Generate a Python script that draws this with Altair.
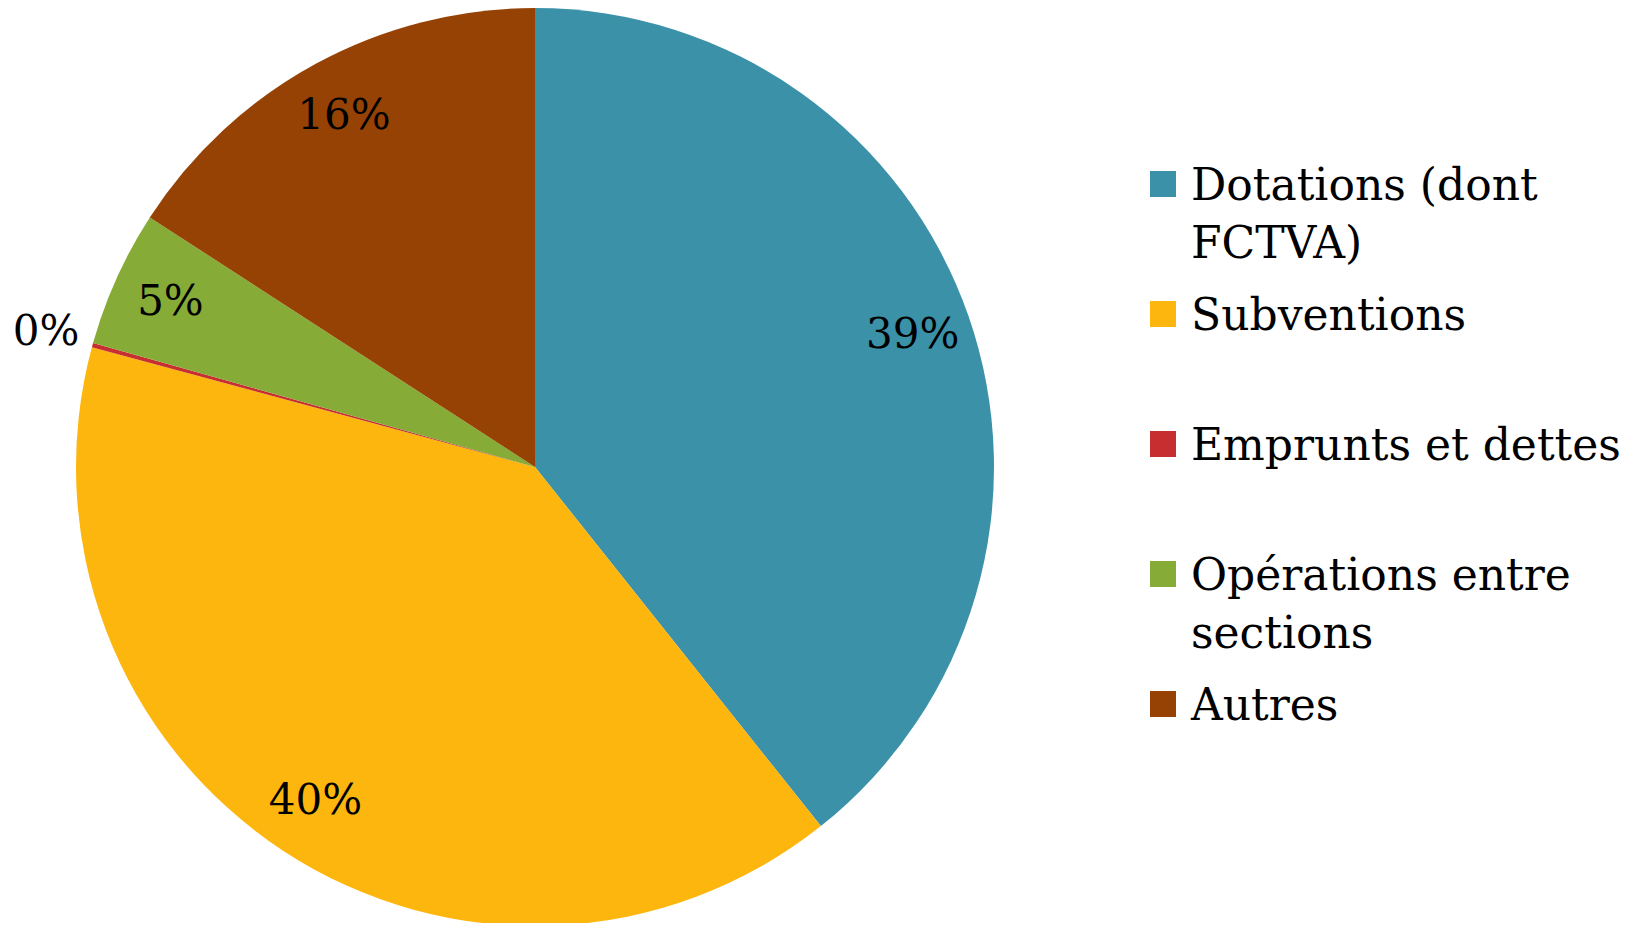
import altair as alt
import pandas as pd

categories = ["Dotations (dont FCTVA)", "Subventions", "Emprunts et dettes",
              "Opérations entre sections", "Autres"]
legend_labels = ["Dotations (dont\nFCTVA)", "Subventions", "Emprunts et dettes",
                 "Opérations entre\nsections", "Autres"]
values = [39.3, 39.9, 0.15, 4.8, 15.85]
colors = ["#3A91A8", "#FDB60D", "#C72E30", "#87AB37", "#974205"]

df = pd.DataFrame({
    "category": categories,
    "legend_label": legend_labels,
    "value": values,
    "idx": list(range(len(categories))),
})

CX, CY, R = 527, 459, 459
FONT = "DejaVu Serif"

color = alt.Color("category:N", scale=alt.Scale(domain=categories, range=colors), legend=None)
theta = alt.Theta("value:Q", stack=True)
order = alt.Order("idx:Q")

base = alt.Chart(df)

pie = base.mark_arc(outerRadius=R).encode(
    theta=theta, color=color, order=order,
    x=alt.value(CX), y=alt.value(CY),
)

pct = base.transform_joinaggregate(total="sum(value)").transform_calculate(
    frac="datum.value / datum.total",
    big_label="datum.value / datum.total >= 0.01 ? format(datum.value / datum.total, '.0%') : ''",
    small_label="datum.value / datum.total < 0.01 ? format(datum.value / datum.total, '.0%') : ''",
)

labels_big = pct.mark_text(
    radius=400, font=FONT, fontSize=42, color="black", align="center", baseline="middle"
).encode(
    theta=theta, order=order, text="big_label:N",
    x=alt.value(CX), y=alt.value(CY),
)

labels_small = pct.mark_text(
    radius=507, font=FONT, fontSize=42, color="black", align="center", baseline="middle"
).encode(
    theta=theta, order=order, text="small_label:N",
    x=alt.value(CX), y=alt.value(CY),
)

ypos = alt.Y("category:N", scale=alt.Scale(type="point", domain=categories,
                                            range=[176, 696], padding=0), axis=None)

leg_sym = base.mark_square(size=676, opacity=1).encode(
    x=alt.value(1155), y=ypos, color=color,
)

leg_txt = base.mark_text(
    font=FONT, fontSize=44, color="black", align="left", baseline="alphabetic",
    dy=16, lineBreak="\n", lineHeight=58,
).encode(
    x=alt.value(1183), y=ypos, text="legend_label:N",
)

chart = alt.layer(pie, labels_big, labels_small, leg_sym, leg_txt).properties(
    width=1615, height=915, padding=0,
    autosize=alt.AutoSizeParams(type="none"),
).configure_view(stroke=None)

chart.save("out.html", embed_options={"renderer": "svg", "actions": False})
